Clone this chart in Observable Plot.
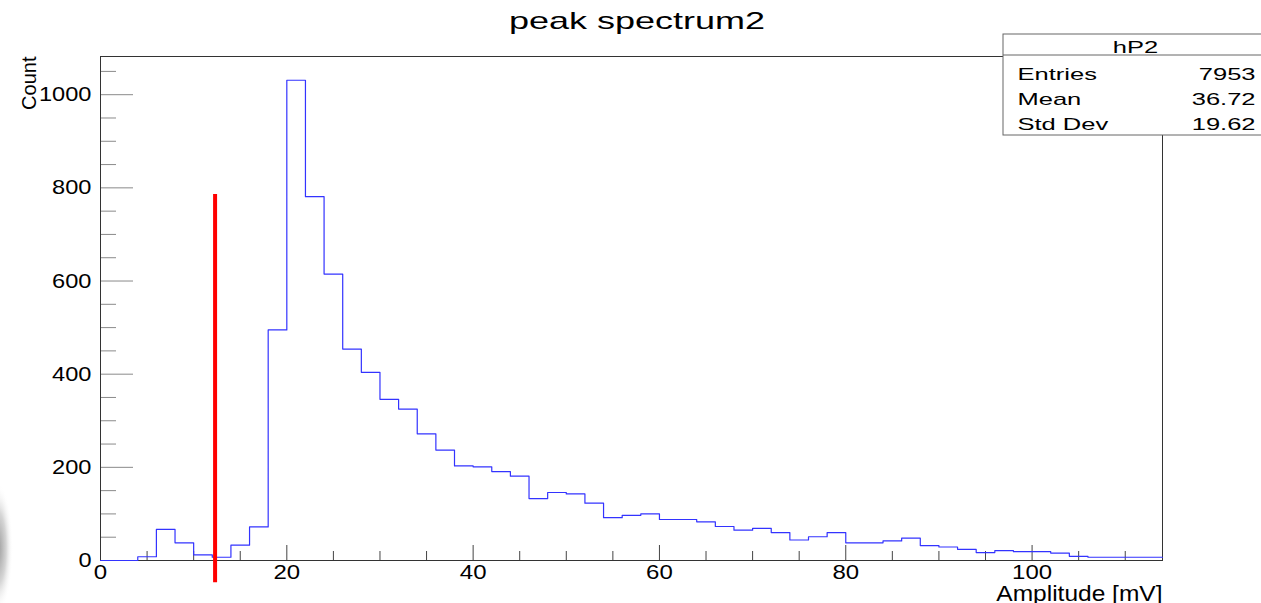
<!DOCTYPE html>
<html><head><meta charset="utf-8">
<script src="https://cdn.jsdelivr.net/npm/d3@7"></script>
<script src="https://cdn.jsdelivr.net/npm/@observablehq/plot@0.6"></script>
<style>html,body{margin:0;padding:0;background:#fff;overflow:hidden;}</style>
</head><body><div id="chart"></div>
<script>
// ---- data ----
const binWidth = 2;
const counts = [0,0,8,67,38,12,7,33,72,495,1031,781,615,454,404,346,325,272,237,203,
  201,191,181,133,146,143,123,92,97,100,88,88,83,73,65,69,60,44,51,60,
  38,38,42,48,32,29,24,17,21,19,19,16,9,7,7,7,7];
const xMajor = [0,20,40,60,80,100];
const xMinor = [5,10,15,25,30,35,45,50,55,65,70,75,85,90,95,105,110];
const yMajor = [0,200,400,600,800,1000];
const yMinor = [50,100,150,250,300,350,450,500,550,650,700,750,850,900,950,1050];
const cutX = [12.3];
const cutTop = 786;
const cutBottom = -48;
const histName = "hP2";
const statsNames = ["Entries","Mean","Std Dev"];
const statsValues = ["7953","36.72","19.62"];
const titleText = "peak spectrum2";
const xLabel = "Amplitude [mV]";
const yLabel = "Count";
const yMax = 1082;

const pts = counts.map((c,i) => ({x: i*binWidth, y: c}));
pts.push({x: counts.length*binWidth, y: counts[counts.length-1]});

function statsBox(index, scales, values, dims) {
  const g = d3.create("svg:g");
  const right = dims.width - dims.marginRight;
  const x0 = right - 159, y0 = dims.marginTop - 22;
  g.append("rect").attr("x", x0).attr("y", y0).attr("width", 290).attr("height", 101)
    .attr("fill", "white").attr("stroke", "#666");
  g.append("line").attr("x1", x0).attr("x2", x0 + 290).attr("y1", y0 + 21).attr("y2", y0 + 21)
    .attr("stroke", "#666");
  return g.node();
}

// faint grey smudge at the lower-left edge of the source image
function smudge(index, scales, values, dims) {
  const g = d3.create("svg:g");
  const grad = g.append("defs").append("radialGradient").attr("id", "smudge-grad");
  grad.append("stop").attr("offset", "0%").attr("stop-color", "#9c9c9c");
  grad.append("stop").attr("offset", "55%").attr("stop-color", "#d6d6d6");
  grad.append("stop").attr("offset", "100%").attr("stop-color", "#ffffff").attr("stop-opacity", 0);
  g.append("ellipse").attr("cx", -2).attr("cy", dims.height - 55).attr("rx", 15).attr("ry", 65)
    .attr("fill", "url(#smudge-grad)");
  return g.node();
}

const fmt = d3.format("d");
const plot = Plot.plot({
  width: 1261, height: 603,
  marginLeft: 100, marginRight: 99, marginTop: 56, marginBottom: 43,
  style: {fontFamily: "'Liberation Sans', Arial, Helvetica, sans-serif", background: "white", color: "black"},
  x: {domain: [0, counts.length*binWidth]},
  y: {domain: [0, yMax]},
  marks: [
    smudge,
    Plot.axisY(yMinor, {tickSize: -16, fill: "none", stroke: "#8a8a8a"}),
    Plot.axisY(yMajor, {tickSize: -33, fill: "none", stroke: "#8a8a8a"}),
    Plot.axisX(xMinor, {tickSize: -9, fill: "none", stroke: "#444"}),
    Plot.axisX(xMajor, {tickSize: -15, fill: "none", stroke: "#444"}),
    Plot.axisY(yMajor, {tickSize: 0, tickPadding: 9, fontSize: 20.5, label: null, tickFormat: fmt}),
    Plot.axisX(xMajor, {tickSize: 0, tickPadding: 5, fontSize: 19.5, label: null, tickFormat: fmt}),
    Plot.frame({stroke: "#333"}),
    Plot.line(pts, {x: "x", y: "y", curve: "step-after", stroke: "#3333ff", strokeWidth: 1.2}),
    Plot.ruleX(cutX, {y1: cutTop, y2: cutBottom, stroke: "#ff0000", strokeWidth: 4}),
    statsBox,
    Plot.text([histName], {text: d => d, frameAnchor: "top-right", dx: -27, dy: -4, textAnchor: "middle", lineAnchor: "bottom", fontSize: 17, ariaDescription: "stats"}),
    ...statsNames.map((n, i) => Plot.text([n], {text: d => d, frameAnchor: "top-right", dx: -145, dy: 23 + 25*i, textAnchor: "start", lineAnchor: "bottom", fontSize: 17, ariaDescription: "stats"})),
    ...statsValues.map((v, i) => Plot.text([v], {text: d => d, frameAnchor: "top-right", dx: 93, dy: 23 + 25*i, textAnchor: "end", lineAnchor: "bottom", fontSize: 17, ariaDescription: "stats"})),
    Plot.text([titleText], {text: d => d, frameAnchor: "top", dx: 5.5, dy: -28, lineAnchor: "bottom", fontSize: 24, ariaDescription: "title"}),
    Plot.text([xLabel], {text: d => d, frameAnchor: "bottom-right", dy: 40, textAnchor: "end", lineAnchor: "bottom", fontSize: 21.5, ariaDescription: "xlabel"}),
    Plot.text([yLabel], {text: d => d, frameAnchor: "top-left", dx: -65, rotate: -90, textAnchor: "end", lineAnchor: "bottom", fontSize: 20, ariaDescription: "ylabel"})
  ]
});
document.getElementById("chart").append(plot);

function stretch(selector, s) {
  plot.querySelectorAll(selector).forEach(t => {
    const w = t.getComputedTextLength();
    if (w > 0) {
      t.setAttribute("textLength", (w * s).toFixed(1));
      t.setAttribute("lengthAdjust", "spacingAndGlyphs");
    }
  });
}
stretch('g[aria-description="title"] text', 1.5);
stretch('g[aria-description="stats"] text', 1.5);
stretch('g[aria-description="xlabel"] text', 1.14);
stretch('g[aria-label="y-axis tick label"] text', 1.15);
stretch('g[aria-label="x-axis tick label"] text', 1.23);
</script>
</body></html>
